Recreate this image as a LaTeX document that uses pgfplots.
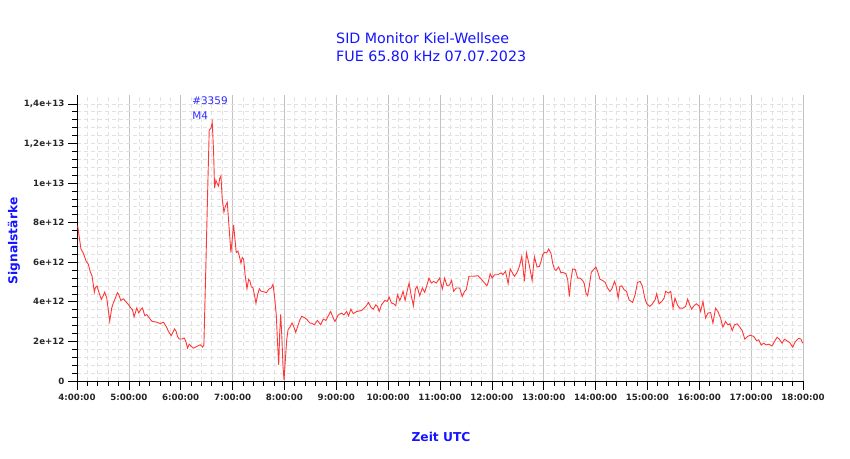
\documentclass[border=0pt]{standalone}
\usepackage{pgfplots}
\pgfplotsset{compat=1.18}
\usepackage{fontspec}
\setmainfont{DejaVu Sans}
\definecolor{titleblue}{RGB}{20,20,255}
\definecolor{annblue}{RGB}{50,40,255}
\definecolor{sigred}{RGB}{255,55,55}
\definecolor{majgrid}{RGB}{195,195,195}
\definecolor{mingrid}{RGB}{225,225,225}
\begin{document}
\begin{tikzpicture}
\path[use as bounding box] (0,0) rectangle (850bp,459bp);
\begin{axis}[
  at={(77bp,78bp)}, anchor=south west,
  scale only axis, width=726bp, height=286bp,
  xmin=4, xmax=18, ymin=0, ymax=14.45,
  axis x line=bottom, axis y line=left,
  axis line style={-, black, line width=0.8bp},
  xtick={4,5,...,18},
  xticklabels={4:00:00,5:00:00,6:00:00,7:00:00,8:00:00,9:00:00,10:00:00,11:00:00,12:00:00,13:00:00,14:00:00,15:00:00,16:00:00,17:00:00,18:00:00},
  ytick={0,2,...,14},
  yticklabels={0,2e+12,4e+12,6e+12,8e+12,1e+13,{1,2e+13},{1,4e+13}},
  minor x tick num=4, minor y tick num=4,
  tick align=outside,
  major tick length=9bp, minor tick length=4.6bp,
  tick style={black, line width=0.7bp},
  /pgf/number format/assume math mode=true,
  tick label style={font=\bfseries\fontsize{8.7}{10}\selectfont, text=black!85},
  xticklabel style={yshift=-1bp},
  grid=both,
  major x grid style={majgrid, line width=0.7bp},
  minor x grid style={mingrid, line width=0.7bp, dash pattern=on 4bp off 3bp},
  major y grid style={mingrid, line width=0.7bp, dash pattern=on 4bp off 3bp},
  minor y grid style={mingrid, line width=0.7bp, dash pattern=on 4bp off 3bp},
  clip=false,
]
\addplot[sigred, line width=0.9bp, mark=none] coordinates {
(4.013,7.85)(4.039,7.34)(4.077,6.66)(4.122,6.46)(4.174,6.07)(4.219,5.90)(4.251,5.56)(4.290,5.30)(4.335,4.49)(4.354,4.71)(4.386,4.80)(4.425,4.46)(4.470,4.12)(4.502,4.29)(4.534,4.49)(4.573,4.20)(4.631,3.02)(4.670,3.69)(4.702,3.95)(4.741,4.20)(4.779,4.46)(4.805,4.37)(4.844,4.07)(4.895,4.15)(4.934,4.03)(4.992,3.86)(5.037,3.69)(5.069,3.61)(5.101,3.24)(5.153,3.69)(5.191,3.44)(5.230,3.61)(5.262,3.69)(5.307,3.30)(5.346,3.36)(5.391,3.19)(5.442,3.02)(5.539,2.97)(5.603,2.90)(5.668,2.97)(5.719,2.76)(5.764,2.51)(5.816,2.29)(5.842,2.42)(5.880,2.63)(5.912,2.51)(5.938,2.25)(5.970,2.12)(6.022,2.12)(6.067,2.17)(6.099,2.00)(6.131,1.66)(6.164,1.86)(6.202,1.75)(6.247,1.66)(6.312,1.75)(6.376,1.83)(6.421,1.71)(6.447,1.83)(6.485,5.81)(6.524,10.05)(6.550,12.68)(6.582,12.76)(6.608,13.07)(6.634,11.58)(6.653,9.75)(6.679,10.14)(6.704,9.97)(6.730,9.85)(6.750,10.22)(6.775,10.36)(6.801,9.20)(6.833,8.53)(6.865,8.86)(6.898,9.03)(6.930,7.85)(6.968,6.49)(6.994,7.17)(7.020,7.88)(7.046,7.17)(7.071,6.49)(7.104,6.56)(7.129,6.32)(7.162,5.95)(7.187,6.24)(7.213,6.15)(7.245,5.30)(7.278,4.66)(7.310,5.14)(7.335,5.05)(7.361,4.76)(7.393,4.71)(7.426,4.29)(7.451,3.92)(7.484,4.37)(7.516,4.66)(7.548,4.54)(7.600,4.51)(7.651,4.46)(7.696,4.63)(7.748,4.71)(7.780,4.88)(7.812,4.20)(7.845,3.27)(7.864,2.08)(7.890,0.81)(7.909,2.42)(7.928,3.36)(7.947,2.42)(7.973,0.73)(7.992,0.05)(8.018,1.07)(8.044,2.08)(8.070,2.59)(8.115,2.76)(8.147,2.93)(8.179,2.76)(8.218,2.46)(8.256,2.76)(8.295,3.07)(8.333,3.27)(8.392,3.19)(8.437,3.10)(8.488,2.93)
(8.526,2.92)(8.577,2.84)(8.635,3.06)(8.699,2.84)(8.750,3.13)(8.801,3.06)(8.846,3.29)(8.891,3.51)(8.942,3.18)(8.974,3.01)(9.038,3.34)(9.103,3.43)(9.147,3.34)(9.199,3.51)(9.237,3.29)(9.282,3.63)(9.327,3.40)(9.391,3.51)(9.487,3.56)(9.571,3.77)(9.622,3.97)(9.667,3.73)(9.712,3.63)(9.763,3.85)(9.795,3.77)(9.827,3.51)(9.872,3.85)(9.936,4.07)(9.981,4.02)(10.019,4.24)(10.064,3.94)(10.109,3.90)(10.147,3.80)(10.179,4.36)(10.224,4.07)(10.256,4.27)(10.288,4.53)(10.327,4.07)(10.365,4.53)(10.404,4.95)(10.442,4.36)(10.487,3.80)(10.526,4.65)(10.558,4.78)(10.609,4.31)(10.660,4.70)(10.705,4.48)(10.737,4.75)(10.788,5.20)(10.833,4.95)(10.878,5.03)(10.929,4.95)(10.994,5.20)(11.045,4.65)(11.090,5.20)(11.135,4.81)(11.186,4.86)(11.224,5.08)(11.263,4.53)(11.314,4.70)(11.378,4.70)(11.429,4.27)(11.474,4.53)(11.506,4.61)(11.558,5.29)(11.635,5.29)(11.731,5.32)(11.795,5.15)(11.859,4.95)(11.904,4.81)(11.929,4.98)(11.968,5.42)(12.006,5.20)(12.051,5.37)(12.115,5.37)(12.179,5.46)(12.212,5.37)(12.263,5.54)(12.314,4.92)(12.353,5.66)(12.391,5.49)(12.436,5.29)(12.481,5.46)(12.532,5.79)(12.577,6.30)(12.628,5.03)(12.667,6.47)(12.724,5.83)(12.776,5.08)(12.821,6.27)(12.872,5.76)(12.917,5.79)(12.949,6.05)(12.981,6.39)(13.019,6.50)(13.058,6.47)(13.096,6.67)
(13.141,6.44)(13.173,5.96)(13.205,5.66)(13.237,5.59)(13.288,5.76)(13.333,5.46)(13.365,5.49)(13.429,5.42)(13.462,5.12)(13.494,4.27)(13.526,5.12)(13.558,5.66)(13.609,5.63)(13.654,5.20)(13.699,5.20)(13.750,5.08)(13.782,4.92)(13.814,4.44)(13.846,4.31)(13.878,4.78)(13.917,5.49)(13.962,5.63)(14.006,5.76)(14.038,5.54)(14.083,5.15)(14.135,5.08)(14.186,4.98)(14.231,4.70)(14.276,4.53)(14.314,4.65)(14.365,5.03)(14.391,4.86)(14.436,4.19)(14.468,4.78)(14.506,4.81)(14.551,4.61)(14.596,4.53)(14.647,4.10)(14.712,3.97)(14.763,4.36)(14.808,4.98)(14.859,5.03)(14.904,4.78)(14.949,4.19)(14.987,3.90)(15.045,3.77)(15.096,3.90)(15.147,4.10)(15.179,4.41)(15.224,3.90)(15.276,4.02)(15.321,4.19)(15.353,4.53)(15.404,4.44)(15.449,4.53)(15.494,3.68)(15.532,4.19)(15.577,3.85)(15.622,3.68)(15.686,3.68)(15.737,3.77)(15.776,4.14)(15.814,3.85)(15.853,3.63)(15.897,3.80)(15.942,3.90)(15.994,3.80)(16.026,3.51)(16.071,4.02)(16.122,3.18)(16.167,3.43)(16.218,3.46)(16.263,2.92)(16.314,3.68)(16.359,3.51)(16.410,3.18)(16.455,2.72)(16.506,3.01)(16.551,2.84)(16.590,2.89)(16.635,2.55)(16.679,2.84)(16.731,2.89)(16.782,2.72)(16.827,2.55)(16.878,2.11)(16.929,2.25)(16.987,2.31)(17.051,2.25)(17.103,2.04)(17.147,2.08)(17.192,1.82)(17.244,1.91)(17.288,1.82)(17.340,1.86)(17.404,1.77)(17.449,1.99)(17.500,2.21)(17.545,2.11)(17.596,1.91)(17.641,2.11)(17.692,2.03)(17.744,1.94)(17.801,1.71)(17.853,1.99)(17.917,2.16)(17.962,2.11)(17.994,1.91)
};
\node[anchor=west, inner sep=0pt, text=annblue, font=\fontsize{10.5}{12}\selectfont] at (axis cs:6.22,14.18) {\#3359};
\node[anchor=west, inner sep=0pt, text=annblue, font=\fontsize{10.5}{12}\selectfont] at (axis cs:6.22,13.42) {M4};
\end{axis}
\node[anchor=west, inner sep=0pt, text=titleblue, font=\fontsize{14.3}{17}\selectfont] at (336bp,421bp) {SID Monitor Kiel-Wellsee};
\node[anchor=west, inner sep=0pt, text=titleblue, font=\fontsize{14.3}{17}\selectfont] at (336bp,403bp) {FUE 65.80 kHz 07.07.2023};
\node[inner sep=0pt, text=titleblue, font=\bfseries\fontsize{12.3}{14}\selectfont] at (441bp,22bp) {Zeit UTC};
\node[inner sep=0pt, rotate=90, text=titleblue, font=\bfseries\fontsize{12.3}{14}\selectfont] at (14bp,218bp) {Signalstärke};
\end{tikzpicture}
\end{document}
